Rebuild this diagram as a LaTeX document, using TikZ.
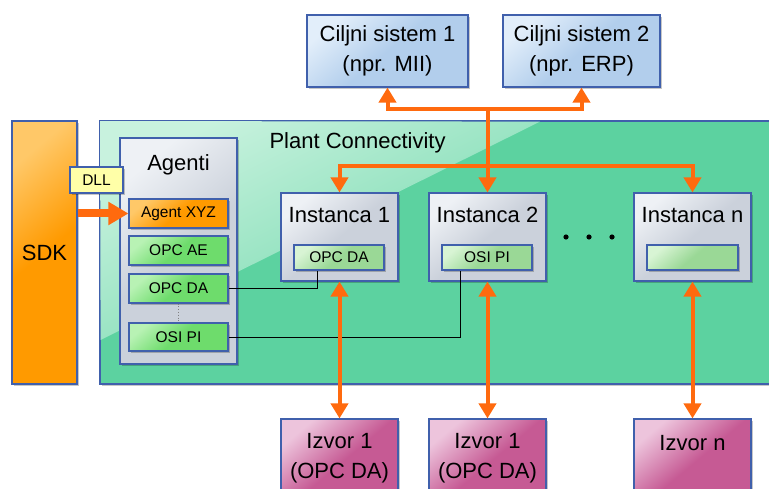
\documentclass[tikz,border=0pt]{standalone}
\usepackage{fontspec}
\setmainfont{Liberation Sans}
\usetikzlibrary{arrows.meta,shadows,calc}

\definecolor{edgeblue}{HTML}{4060AC}
\definecolor{arrowor}{HTML}{FF6A0E}
\definecolor{plantbase}{HTML}{5CD2A0}
\definecolor{plantlight}{HTML}{C8F2DE}
\definecolor{bluebase}{HTML}{B2CEEC}
\definecolor{bluelight}{HTML}{E2EEFA}
\definecolor{greybase}{HTML}{CBD1DB}
\definecolor{greylight}{HTML}{EEF1F5}
\definecolor{greenbase}{HTML}{6EDC6C}
\definecolor{greenlight}{HTML}{B8F2B4}
\definecolor{slotbase}{HTML}{9AD896}
\definecolor{slotlight}{HTML}{D8F4D4}
\definecolor{orangebase}{HTML}{FF9A00}
\definecolor{orangelight}{HTML}{FFC868}
\definecolor{magbase}{HTML}{C65A94}
\definecolor{maglight}{HTML}{EDC4DC}
\definecolor{dllyellow}{HTML}{FFFFA8}

\begin{document}
\begin{tikzpicture}[x=1pt,y=-1pt,
  box/.style={rectangle, draw=edgeblue, line width=1.1pt, inner sep=0pt,
    drop shadow={shadow xshift=2pt, shadow yshift=-2pt, opacity=0.22, fill=black}},
  shine/.style 2 args={top color=#1, bottom color=#2, middle color=#2, shading angle=40},
  big/.style={font=\fontsize{22}{30}\selectfont},
  small/.style={font=\fontsize{15.5}{18}\selectfont},
  conn/.style={draw=arrowor, line width=4pt},
  tip/.tip={Triangle[width=17pt,length=15pt]},
  wire/.style={draw=black, line width=0.8pt}
]
\useasboundingbox (0,0) rectangle (769,489);
\clip (0,0) rectangle (769,489);

% SDK column and the Plant Connectivity area
\node[box, shine={orangelight}{orangebase}, minimum width=65pt, minimum height=263pt, big]
  (sdk) at (44.5,252.5) {SDK};
\node[box, fill=plantbase, minimum width=690pt, minimum height=263pt]
  (plant) at (445,252.5) {};
% glassy highlight in the upper left corner of the area
\shade[top color=plantlight, bottom color=plantbase!90!white, shading angle=26.5]
  ([shift={(0.6,0.6)}]plant.north west) -- (540,121.6) -- (100.6,340) -- cycle;
\node[big, anchor=west] (plantlbl) at (266,143) {Plant Connectivity};

% Agent panel
\node[box, shine={greylight}{greybase}, minimum width=117pt, minimum height=226pt]
  (agenti) at (178.5,251) {};
\node[big] (agentilbl) at (178.5,165) {Agenti};
\node[box, shine={orangelight}{orangebase}, minimum width=99pt, minimum height=29pt, small]
  (axyz) at (178.5,213.5) {Agent XYZ};
\node[box, shine={greenlight}{greenbase}, minimum width=99pt, minimum height=29pt, small]
  (aae) at (178.5,250.5) {OPC AE};
\node[box, shine={greenlight}{greenbase}, minimum width=99pt, minimum height=29pt, small]
  (ada) at (178.5,288.5) {OPC DA};
\node[box, shine={greenlight}{greenbase}, minimum width=99pt, minimum height=28pt, small]
  (api) at (178.5,337) {OSI PI};
\draw[gray, line width=0.8pt, dotted] (ada.south) -- (api.north);

% DLL tag and SDK link
\node[box, fill=dllyellow, minimum width=53pt, minimum height=26pt, small, drop shadow={opacity=0}]
  (dll) at (96.5,180) {DLL};
\draw[draw=arrowor, line width=8pt, -{Triangle[width=22pt,length=20pt]}]
  (sdk.east |- axyz) -- (axyz.west);

% Target systems
\node[box, shine={bluelight}{bluebase}, minimum width=161pt, minimum height=72pt, big, align=center]
  (c1) at (387.5,51) {Ciljni sistem 1\\(npr. MII)};
\node[box, shine={bluelight}{bluebase}, minimum width=157pt, minimum height=72pt, big, align=center]
  (c2) at (581.5,51) {Ciljni sistem 2\\(npr. ERP)};

% Instances
\foreach \nm/\cx in {i1/339.5, i2/487.5, in/692.5}{
  \node[box, shine={greylight}{greybase}, minimum width=117pt, minimum height=88pt]
    (\nm) at (\cx,237) {};
}
\node[big] (i1lbl) at (339.5,215) {Instanca 1};
\node[big] (i2lbl) at (487.5,215) {Instanca 2};
\node[big] (inlbl) at (692.5,215) {Instanca n};
\node[box, shine={slotlight}{slotbase}, minimum width=90pt, minimum height=25pt, small]
  (ida) at (339,257.5) {OPC DA};
\node[box, shine={slotlight}{slotbase}, minimum width=90pt, minimum height=25pt, small]
  (ipi) at (487,257.5) {OSI PI};
\node[box, shine={slotlight}{slotbase}, minimum width=91pt, minimum height=25pt]
  (islot) at (692.5,257.5) {};
\foreach \dx/\nm in {566/d1, 589/d2, 612/d3}
  \fill (\dx,237) circle[radius=2.6pt] coordinate (\nm);

% Sources
\foreach \nm/\cx in {s1/339.5, s2/487.5, sn/692.5}{
  \node[box, shine={maglight}{magbase}, minimum width=117pt, minimum height=90pt]
    (\nm) at (\cx,464) {};
}
\node[big, align=center] (s1lbl) at (339.5,458) {Izvor 1\\(OPC DA)};
\node[big, align=center] (s2lbl) at (487.5,458) {Izvor 1\\(OPC DA)};
\node[big] (snlbl) at (692.5,443) {Izvor n};

% Wires from agents to instance slots
\draw[wire] (ada.east) -| ($(ida.south)+(-22,0)$);
\draw[wire] (api.east) -| ($(ipi.south)+(-27,0)$);

% Distribution arrows
\coordinate (jtop) at (487.5,109);
\coordinate (jmid) at (487.5,166);
\draw[conn, tip-tip] (c1.south) |- (jtop) -| (c2.south);
\draw[conn] (jtop) -- (jmid);
\draw[conn, tip-tip] (i1.north) |- (jmid) -| (in.north);
\draw[conn, -tip] (jmid) -- (i2.north);

% Instance to source links
\draw[conn, tip-tip] (i1.south) -- (s1.north);
\draw[conn, tip-tip] (i2.south) -- (s2.north);
\draw[conn, tip-tip] (in.south) -- (sn.north);
\end{tikzpicture}
\end{document}
